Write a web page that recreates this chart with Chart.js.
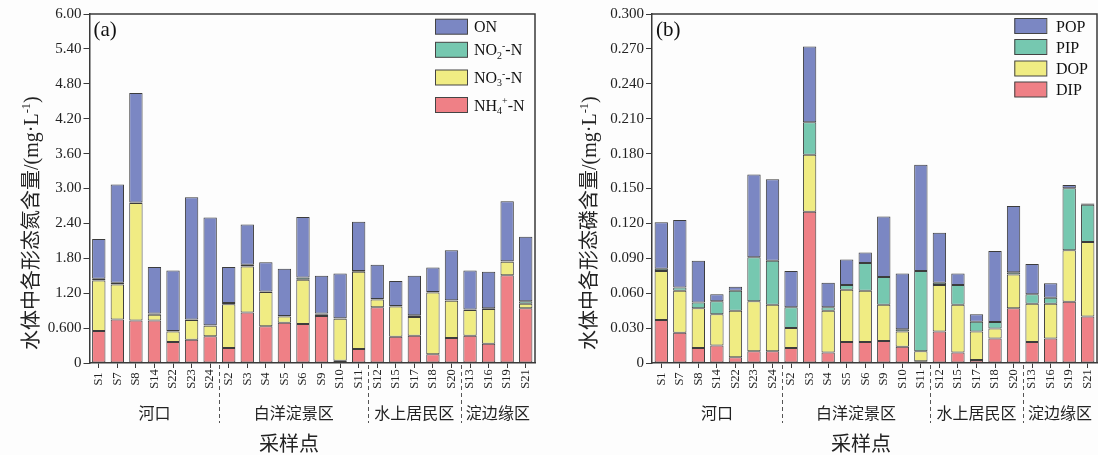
<!DOCTYPE html>
<html>
<head>
<meta charset="utf-8">
<script src="https://cdn.jsdelivr.net/npm/chart.js@4.4.1/dist/chart.umd.min.js"></script>
<style>
  html, body { margin: 0; padding: 0; background: #fdfdfd; }
  #wrap { position: relative; width: 1098px; height: 455px; overflow: hidden; }
  canvas { position: absolute; top: 0; }
  #chartN { left: 0; }
  #chartP { left: 550px; }
</style>
</head>
<body>
<div id="wrap">
  <canvas id="chartN" width="550" height="455"></canvas>
  <canvas id="chartP" width="548" height="455"></canvas>
</div>
<script>
// Sampling sites, in plotting order
const sites = ['S1','S7','S8','S14','S22','S23','S24','S2','S3','S4','S5','S6','S9','S10','S11','S12','S15','S17','S18','S20','S13','S16','S19','S21'];

// Site groups (name, number of sites)
const groupNames = ['河口', '白洋淀景区', '水上居民区', '淀边缘区'];
const groupSizes = [7, 8, 5, 4];

// Nitrogen forms, mg/L
const nh4N = [0.55,0.75,0.73,0.73,0.36,0.40,0.46, 0.26,0.87,0.63,0.69,0.67,0.81,0.04,0.24, 0.96,0.45,0.47,0.15,0.43, 0.47,0.33,1.51,0.94];
const no3N = [0.87,0.60,2.02,0.10,0.18,0.34,0.18, 0.75,0.79,0.59,0.11,0.76,0.02,0.72,1.33, 0.13,0.52,0.32,1.06,0.64, 0.44,0.60,0.23,0.08];
const no2N = [0.03,0.03,0.01,0.02,0.01,0.01,0.01, 0.02,0.03,0.01,0.01,0.04,0.02,0.01,0.01, 0.01,0.01,0.03,0.01,0.01, 0.01,0.01,0.01,0.04];
const orgN = [0.68,1.69,1.88,0.80,1.04,2.10,1.85, 0.62,0.69,0.50,0.81,1.04,0.65,0.77,0.85, 0.59,0.43,0.68,0.42,0.86, 0.67,0.63,1.03,1.11];

// Phosphorus forms, mg/L
const dip = [0.037,0.026,0.013,0.015,0.005,0.010,0.010, 0.013,0.130,0.009,0.018,0.018,0.019,0.014,0.0015, 0.027,0.009,0.0026,0.021,0.047, 0.018,0.021,0.0526,0.040];
const dop = [0.042,0.036,0.034,0.027,0.040,0.043,0.040, 0.017,0.049,0.036,0.045,0.044,0.031,0.013,0.0085, 0.040,0.041,0.0245,0.0086,0.029, 0.033,0.030,0.0443,0.064];
const pip = [0.002,0.003,0.005,0.011,0.017,0.038,0.038, 0.018,0.028,0.003,0.004,0.024,0.024,0.002,0.069, 0.002,0.017,0.0083,0.0057,0.002, 0.008,0.005,0.0534,0.032];
const pop = [0.040,0.058,0.036,0.006,0.0035,0.071,0.070, 0.031,0.065,0.021,0.022,0.009,0.052,0.048,0.0915, 0.043,0.010,0.0066,0.0609,0.057, 0.026,0.0126,0.0028,0.0011];

// Y axis ticks
const nTickValues = [0,0.6,1.2,1.8,2.4,3.0,3.6,4.2,4.8,5.4,6.0];
const nTickLabels = ['0','0.600','1.20','1.80','2.40','3.00','3.60','4.20','4.80','5.40','6.00'];
const pTickValues = [0,0.03,0.06,0.09,0.12,0.15,0.18,0.21,0.24,0.27,0.30];
const pTickLabels = ['0','0.030','0.060','0.090','0.120','0.150','0.180','0.210','0.240','0.270','0.300'];

const COLORS = { blue: '#7b87c3', green: '#76c8b0', yellow: '#f0ec83', pink: '#ef8086' };
const AXIS = '#3a3a3a';
const SERIF = "'Liberation Serif', 'Times New Roman', 'Noto Sans CJK SC', serif";
const CJK = "'Noto Sans CJK SC', 'Liberation Serif', sans-serif";

// --- small rich-text renderer for sub/superscripts (NO₃⁻-N, L⁻¹) ---
const SUB = {'₀':'0','₁':'1','₂':'2','₃':'3','₄':'4','₅':'5','₆':'6','₇':'7','₈':'8','₉':'9'};
const SUP = {'⁺':'+','⁻':'-','⁰':'0','¹':'1','²':'2','³':'3'};
function runsOf(text) {
  const runs = [];
  for (const ch of text) {
    const kind = SUB[ch] ? 'sub' : (SUP[ch] ? 'sup' : 'n');
    const t = SUB[ch] || SUP[ch] || ch;
    const last = runs[runs.length - 1];
    if (last && last.kind === kind) last.t += t; else runs.push({ t, kind });
  }
  return runs;
}
function richWidth(ctx, text, size, family) {
  let w = 0;
  for (const r of runsOf(text)) {
    ctx.font = (r.kind === 'n' ? size : size * 0.62) + 'px ' + family;
    w += ctx.measureText(r.t).width;
  }
  return w;
}
function drawRich(ctx, text, x, baseline, size, family, color) {
  ctx.fillStyle = color;
  ctx.textAlign = 'left';
  ctx.textBaseline = 'alphabetic';
  let cx = x;
  for (const r of runsOf(text)) {
    const s = r.kind === 'n' ? size : size * 0.62;
    const dy = r.kind === 'sub' ? size * 0.2 : (r.kind === 'sup' ? -size * 0.4 : 0);
    ctx.font = s + 'px ' + family;
    ctx.fillText(r.t, cx, baseline + dy);
    cx += ctx.measureText(r.t).width;
  }
}

// Decorations drawn around the plot: frame, legend, panel tag, axis titles, site labels, groups
const decorPlugin = {
  id: 'decor',
  afterDraw(chart) {
    const o = chart.options.plugins.decor;
    const ctx = chart.ctx;
    const a = chart.chartArea;
    const xs = chart.scales.x;
    ctx.save();

    // top and right frame
    ctx.strokeStyle = AXIS;
    ctx.lineWidth = 1.5;
    ctx.beginPath();
    ctx.moveTo(a.left, a.top);
    ctx.lineTo(a.right, a.top);
    ctx.lineTo(a.right, a.bottom);
    ctx.stroke();

    // panel tag
    ctx.fillStyle = '#111';
    ctx.font = '21px ' + SERIF;
    ctx.textAlign = 'left';
    ctx.textBaseline = 'middle';
    ctx.fillText(o.tag, a.left + 4, 30);

    // legend (top entry = top of stack)
    const ds = chart.data.datasets.slice().reverse();
    ds.forEach((d, i) => {
      const cy = o.legendRows[i];
      ctx.fillStyle = d.backgroundColor;
      ctx.fillRect(o.legendBoxX, cy - 7.5, 32, 15);
      ctx.strokeStyle = '#444';
      ctx.lineWidth = 1;
      ctx.strokeRect(o.legendBoxX + 0.5, cy - 7.5, 32, 15);
      drawRich(ctx, d.label, o.legendTextX, cy + 5.5, 16, SERIF, '#111');
    });

    // y axis title, rotated
    ctx.save();
    ctx.translate(o.yTitleX, 350);
    ctx.rotate(-Math.PI / 2);
    drawRich(ctx, o.yTitle, 0, 7, 20, SERIF, '#222');
    ctx.restore();

    // site labels, rotated
    ctx.fillStyle = '#222';
    ctx.font = '12.5px ' + SERIF;
    chart.data.labels.forEach((lab, i) => {
      const x = xs.getPixelForValue(i);
      ctx.save();
      ctx.translate(x, 379);
      ctx.rotate(-Math.PI / 2);
      ctx.textAlign = 'center';
      ctx.textBaseline = 'middle';
      ctx.fillText(lab, 0, 0);
      ctx.restore();
    });

    // group labels and dashed separators
    let start = 0;
    groupNames.forEach((name, g) => {
      const end = start + groupSizes[g] - 1;
      const cx = (xs.getPixelForValue(start) + xs.getPixelForValue(end)) / 2;
      ctx.fillStyle = '#222';
      ctx.font = '16px ' + CJK;
      ctx.textAlign = 'center';
      ctx.textBaseline = 'middle';
      ctx.fillText(name, cx, 413);
      if (g < groupNames.length - 1) {
        const sx = (xs.getPixelForValue(end) + xs.getPixelForValue(end + 1)) / 2;
        ctx.strokeStyle = '#555';
        ctx.lineWidth = 1;
        ctx.setLineDash([4, 3]);
        ctx.beginPath();
        ctx.moveTo(Math.round(sx) + 0.5, a.bottom + 2);
        ctx.lineTo(Math.round(sx) + 0.5, 423);
        ctx.stroke();
        ctx.setLineDash([]);
      }
      start = end + 1;
    });

    // x axis title
    ctx.fillStyle = '#222';
    ctx.font = '20px ' + CJK;
    ctx.textAlign = 'center';
    ctx.textBaseline = 'middle';
    ctx.fillText('采样点', o.xTitleX, 443);

    ctx.restore();
  }
};

function makeChart(id, series, tickValues, tickLabels, yMax, lay) {
  return new Chart(document.getElementById(id), {
    type: 'bar',
    data: {
      labels: sites,
      datasets: series.map(s => ({
        label: s.label,
        data: s.data,
        backgroundColor: s.color,
        borderColor: '#3c3c3c',
        borderWidth: 1,
        borderSkipped: false,
        barPercentage: 0.72,
        categoryPercentage: 1.0
      }))
    },
    options: {
      responsive: false,
      animation: false,
      devicePixelRatio: 1,
      layout: { padding: { left: 0, top: 14, right: lay.padRight, bottom: 0 } },
      plugins: {
        legend: { display: false },
        tooltip: { enabled: false },
        decor: lay
      },
      scales: {
        x: {
          stacked: true,
          grid: { display: true, drawOnChartArea: false, drawTicks: true, tickLength: 5, offset: false, color: AXIS, lineWidth: 1 },
          border: { display: true, color: AXIS, width: 1.5 },
          ticks: { display: false },
          afterFit(scale) { scale.height = 92; }
        },
        y: {
          stacked: true,
          min: 0,
          max: yMax,
          grid: { display: true, drawOnChartArea: false, drawTicks: true, tickLength: 6, color: AXIS, lineWidth: 1 },
          border: { display: true, color: AXIS, width: 1.5 },
          ticks: {
            padding: 2,
            color: '#222',
            font: { family: SERIF, size: 15 },
            callback: (v, i) => tickLabels[i]
          },
          afterBuildTicks(scale) { scale.ticks = tickValues.map(v => ({ value: v })); },
          afterFit(scale) { scale.width = lay.yWidth; }
        }
      }
    },
    plugins: [decorPlugin]
  });
}

makeChart('chartN', [
  { label: 'NH₄⁺-N', data: nh4N, color: COLORS.pink },
  { label: 'NO₃⁻-N', data: no3N, color: COLORS.yellow },
  { label: 'NO₂⁻-N', data: no2N, color: COLORS.green },
  { label: 'ON', data: orgN, color: COLORS.blue }
], nTickValues, nTickLabels, 6, {
  tag: '(a)', yWidth: 89.5, padRight: 15,
  yTitle: '水体中各形态氮含量/(mg·L⁻¹)', yTitleX: 31,
  legendBoxX: 435, legendTextX: 474, legendRows: [26.7, 49.8, 77.5, 105],
  xTitleX: 289
});

makeChart('chartP', [
  { label: 'DIP', data: dip, color: COLORS.pink },
  { label: 'DOP', data: dop, color: COLORS.yellow },
  { label: 'PIP', data: pip, color: COLORS.green },
  { label: 'POP', data: pop, color: COLORS.blue }
], pTickValues, pTickLabels, 0.3, {
  tag: '(b)', yWidth: 102, padRight: 1,
  yTitle: '水体中各形态磷含量/(mg·L⁻¹)', yTitleX: 39,
  legendBoxX: 464.3, legendTextX: 506, legendRows: [26, 47, 68.5, 89.5],
  xTitleX: 311
});
</script>
</body>
</html>
